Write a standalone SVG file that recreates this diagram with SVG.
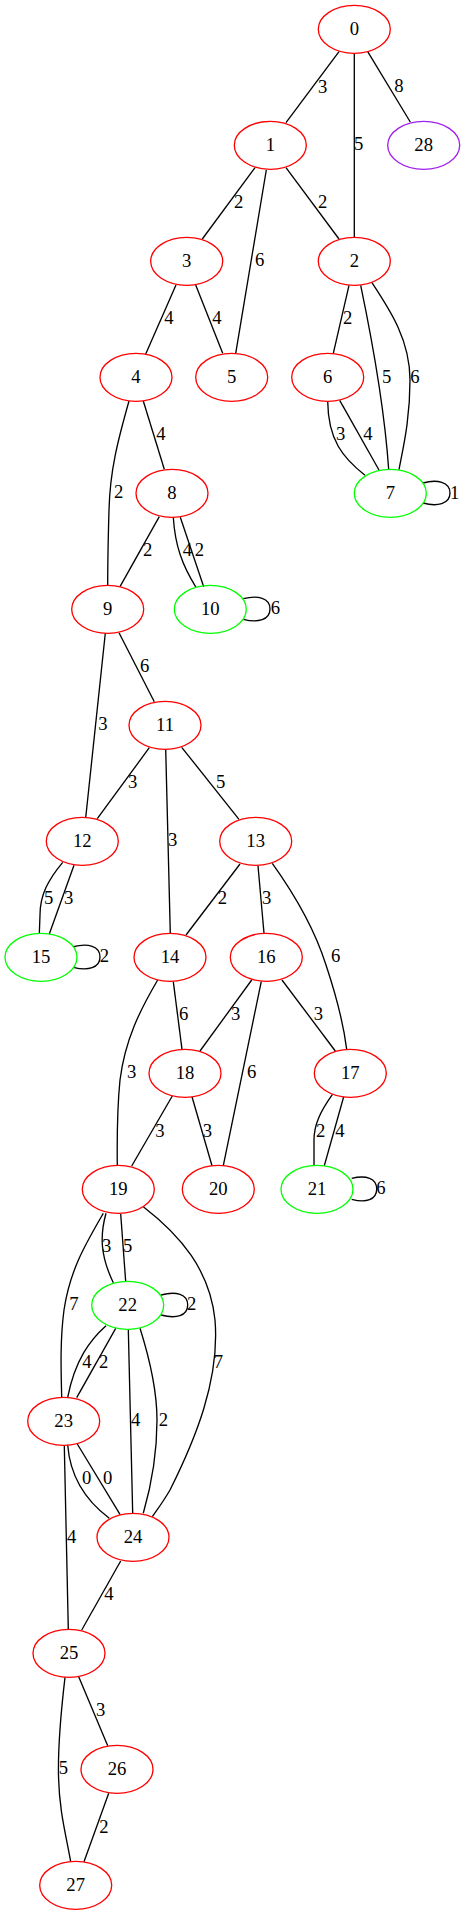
<svg xmlns="http://www.w3.org/2000/svg" width="465" height="1915" viewBox="0 0 465 1915">
<style>
.n ellipse{fill:none;stroke-width:1.33}
.r ellipse{stroke:#ff0000}
.g ellipse{stroke:#00ff00}
.p ellipse{stroke:#a020f0}
text{font-family:"Liberation Serif",serif;font-size:18.67px;text-anchor:middle;fill:#000}
#edges path{fill:none;stroke:#000;stroke-width:1.33}
</style>
<rect width="465" height="1915" fill="#fff"/>
<g id="edges">
<path d="M339,51.7L286,122.7"/><text x="322.7" y="92.7">3</text>
<path d="M354.3,53L354.3,237"/><text x="358.7" y="150.3">5</text>
<path d="M367.7,51.7L410.3,122"/><text x="399" y="92">8</text>
<path d="M255,167.7L202.3,239"/><text x="238.7" y="208.3">2</text>
<path d="M266.3,170L235.7,353.3"/><text x="259.7" y="266">6</text>
<path d="M286,167.7L339,239"/><text x="322.7" y="208.3">2</text>
<path d="M176,285L145.7,354"/><text x="169" y="324.3">4</text>
<path d="M195.7,285L222.7,353.3"/><text x="217" y="324.3">4</text>
<path d="M349,285.3L333.3,353.3"/><text x="347.7" y="324.3">2</text>
<path d="M360.7,285.3C370,330 384,400 388.7,469.7"/><text x="386.7" y="382.7">5</text>
<path d="M372,282.7C390,310 410,340 410,380C410,420 403,448 399,469.7"/><text x="415" y="382.7">6</text>
<path d="M327.7,401C328,440 343,458 365,475.3"/><text x="340.7" y="440">3</text>
<path d="M339.7,400.3L379,470"/><text x="368" y="440">4</text>
<path d="M423,483C437,479 450,482 450,493C450,504 437,507 423,503"/><text x="454.7" y="499">1</text>
<path d="M129,401C118,440 110,470 109,510C108,545 107.7,565 107.7,585.7"/><text x="118.7" y="498.3">2</text>
<path d="M143.3,401L164.3,469.3"/><text x="161" y="440.3">4</text>
<path d="M159.3,516.7L120,586.7"/><text x="147.7" y="556">2</text>
<path d="M173.3,517.3C175,545 182,565 196,587.3"/><text x="187.3" y="556">4</text>
<path d="M180.3,517.3L203.7,586.7"/><text x="199.3" y="556">2</text>
<path d="M243.3,598.7C258,595 270,598 270,609C270,620 258,623 243.3,619.3"/><text x="275.3" y="614.3">6</text>
<path d="M105.3,633.3L85.7,817.7"/><text x="103" y="730">3</text>
<path d="M119,632.7L154.3,701.7"/><text x="144.7" y="672">6</text>
<path d="M149.3,747.7L97.3,818.7"/><text x="132.7" y="788.3">3</text>
<path d="M165.7,749L170.3,933.3"/><text x="172.7" y="846">3</text>
<path d="M181.7,747.3L239,819.3"/><text x="220.7" y="788.3">5</text>
<path d="M62.7,862.3C48,880 40,895 40,915L39.3,934"/><text x="48.7" y="904.3">5</text>
<path d="M74,865.3L49.3,934"/><text x="68.7" y="904.3">3</text>
<path d="M73.3,946.7C88,943 100,946 100,957C100,968 88,971 73.3,967.3"/><text x="104.3" y="962">2</text>
<path d="M240,864L186,935"/><text x="222.3" y="904.3">2</text>
<path d="M258,865.7L264,933.3"/><text x="266.7" y="904.3">3</text>
<path d="M272.3,863.3C295,895 315,930 326,965C336,995 343,1020 346.7,1049.3"/><text x="335.7" y="962">6</text>
<path d="M157.7,980C140,1010 125,1040 120,1080C117,1110 117,1140 117.3,1165.7"/><text x="131.7" y="1078.3">3</text>
<path d="M173.3,981.7L182,1049.3"/><text x="183.7" y="1020.3">6</text>
<path d="M251.7,980L200,1051"/><text x="235.7" y="1020">3</text>
<path d="M261.3,981.3L223.3,1165.7"/><text x="251.7" y="1078.3">6</text>
<path d="M282,980L335.3,1051"/><text x="318.3" y="1020">3</text>
<path d="M172.3,1096L131.7,1166"/><text x="160" y="1136.7">3</text>
<path d="M192,1096.7L212,1165.7"/><text x="207.3" y="1136.7">3</text>
<path d="M332.3,1094.7C320,1112 314,1125 314,1140L314,1165.7"/><text x="320.7" y="1136.7">2</text>
<path d="M343.7,1096.7L324.3,1165.7"/><text x="340" y="1136.7">4</text>
<path d="M351.7,1178.3C366,1175 376.7,1178 376.7,1189C376.7,1200 366,1203 351.7,1199.3"/><text x="381" y="1194.3">6</text>
<path d="M103.3,1213.3C85,1245 70,1270 64,1310C60,1340 61,1370 61.7,1397.3"/><text x="74" y="1310">7</text>
<path d="M106,1213.3C100,1235 100,1255 113.3,1282.7"/><text x="106.7" y="1252">3</text>
<path d="M120.7,1214L125.7,1281.7"/><text x="127.7" y="1252">5</text>
<path d="M143.3,1206.7C180,1235 210,1270 215,1320C220,1380 195,1440 170,1490C163,1502 157,1510 152.3,1516.7"/><text x="218.3" y="1367.7">7</text>
<path d="M161,1295C176,1291 187.7,1294 187.7,1305C187.7,1316 176,1319 161,1315"/><text x="191.7" y="1310">2</text>
<path d="M106,1325.7C90,1340 75,1360 67.7,1397.3"/><text x="87" y="1367.7">4</text>
<path d="M115.7,1328.3L76.7,1397.7"/><text x="103.7" y="1367.7">2</text>
<path d="M128.3,1329L132.7,1513.3"/><text x="135.7" y="1426">4</text>
<path d="M140,1328.3C150,1360 157,1390 157,1420C157,1460 150,1490 143.3,1513.3"/><text x="163.3" y="1426">2</text>
<path d="M67.7,1445C70,1475 85,1500 109.3,1518.3"/><text x="86.7" y="1484.3">0</text>
<path d="M77.3,1444L120,1514.3"/><text x="107.7" y="1484.3">0</text>
<path d="M64.3,1445.7L68.3,1629.3"/><text x="71.7" y="1542.7">4</text>
<path d="M120.7,1561L81.7,1630"/><text x="109" y="1600.3">4</text>
<path d="M65,1677.3C60,1720 58,1750 58.5,1775C59,1810 66,1835 70.7,1861.7"/><text x="63.3" y="1774.3">5</text>
<path d="M78.7,1676.7L107.7,1745.7"/><text x="100.7" y="1716">3</text>
<path d="M108.7,1793.3L84,1861.7"/><text x="104" y="1832.7">2</text>
</g>
<g id="node0" class="n r"><ellipse cx="354.3" cy="29.3" rx="36" ry="24"/><text x="354.3" y="35.3">0</text></g>
<g id="node1" class="n r"><ellipse cx="270.3" cy="145.3" rx="36" ry="24"/><text x="270.3" y="151.3">1</text></g>
<g id="node28" class="n p"><ellipse cx="423.7" cy="145.3" rx="36" ry="24"/><text x="423.7" y="151.3">28</text></g>
<g id="node3" class="n r"><ellipse cx="186.7" cy="261.3" rx="36" ry="24"/><text x="186.7" y="267.3">3</text></g>
<g id="node2" class="n r"><ellipse cx="354.3" cy="261.3" rx="36" ry="24"/><text x="354.3" y="267.3">2</text></g>
<g id="node4" class="n r"><ellipse cx="136" cy="377.3" rx="36" ry="24"/><text x="136" y="383.3">4</text></g>
<g id="node5" class="n r"><ellipse cx="231.7" cy="377.3" rx="36" ry="24"/><text x="231.7" y="383.3">5</text></g>
<g id="node6" class="n r"><ellipse cx="327.7" cy="377.3" rx="36" ry="24"/><text x="327.7" y="383.3">6</text></g>
<g id="node8" class="n r"><ellipse cx="172" cy="493.3" rx="36" ry="24"/><text x="172" y="499.3">8</text></g>
<g id="node7" class="n g"><ellipse cx="390.3" cy="493.3" rx="36" ry="24"/><text x="390.3" y="499.3">7</text></g>
<g id="node9" class="n r"><ellipse cx="107.7" cy="609.3" rx="36" ry="24"/><text x="107.7" y="615.3">9</text></g>
<g id="node10" class="n g"><ellipse cx="210.3" cy="609.3" rx="36" ry="24"/><text x="210.3" y="615.3">10</text></g>
<g id="node11" class="n r"><ellipse cx="165" cy="725.3" rx="36" ry="24"/><text x="165" y="731.3">11</text></g>
<g id="node12" class="n r"><ellipse cx="82.3" cy="841.3" rx="36" ry="24"/><text x="82.3" y="847.3">12</text></g>
<g id="node13" class="n r"><ellipse cx="255.7" cy="841.3" rx="36" ry="24"/><text x="255.7" y="847.3">13</text></g>
<g id="node15" class="n g"><ellipse cx="41" cy="957.3" rx="36" ry="24"/><text x="41" y="963.3">15</text></g>
<g id="node14" class="n r"><ellipse cx="170" cy="957.3" rx="36" ry="24"/><text x="170" y="963.3">14</text></g>
<g id="node16" class="n r"><ellipse cx="266.3" cy="957.3" rx="36" ry="24"/><text x="266.3" y="963.3">16</text></g>
<g id="node18" class="n r"><ellipse cx="185" cy="1073.3" rx="36" ry="24"/><text x="185" y="1079.3">18</text></g>
<g id="node17" class="n r"><ellipse cx="350.3" cy="1073.3" rx="36" ry="24"/><text x="350.3" y="1079.3">17</text></g>
<g id="node19" class="n r"><ellipse cx="118.3" cy="1189.3" rx="36" ry="24"/><text x="118.3" y="1195.3">19</text></g>
<g id="node20" class="n r"><ellipse cx="218.3" cy="1189.3" rx="36" ry="24"/><text x="218.3" y="1195.3">20</text></g>
<g id="node21" class="n g"><ellipse cx="317" cy="1189.3" rx="36" ry="24"/><text x="317" y="1195.3">21</text></g>
<g id="node22" class="n g"><ellipse cx="127.7" cy="1305.3" rx="36" ry="24"/><text x="127.7" y="1311.3">22</text></g>
<g id="node23" class="n r"><ellipse cx="63.7" cy="1421.3" rx="36" ry="24"/><text x="63.7" y="1427.3">23</text></g>
<g id="node24" class="n r"><ellipse cx="133" cy="1537.3" rx="36" ry="24"/><text x="133" y="1543.3">24</text></g>
<g id="node25" class="n r"><ellipse cx="69" cy="1653.3" rx="36" ry="24"/><text x="69" y="1659.3">25</text></g>
<g id="node26" class="n r"><ellipse cx="117" cy="1769.3" rx="36" ry="24"/><text x="117" y="1775.3">26</text></g>
<g id="node27" class="n r"><ellipse cx="75.7" cy="1885.3" rx="36" ry="24"/><text x="75.7" y="1891.3">27</text></g>
</svg>
